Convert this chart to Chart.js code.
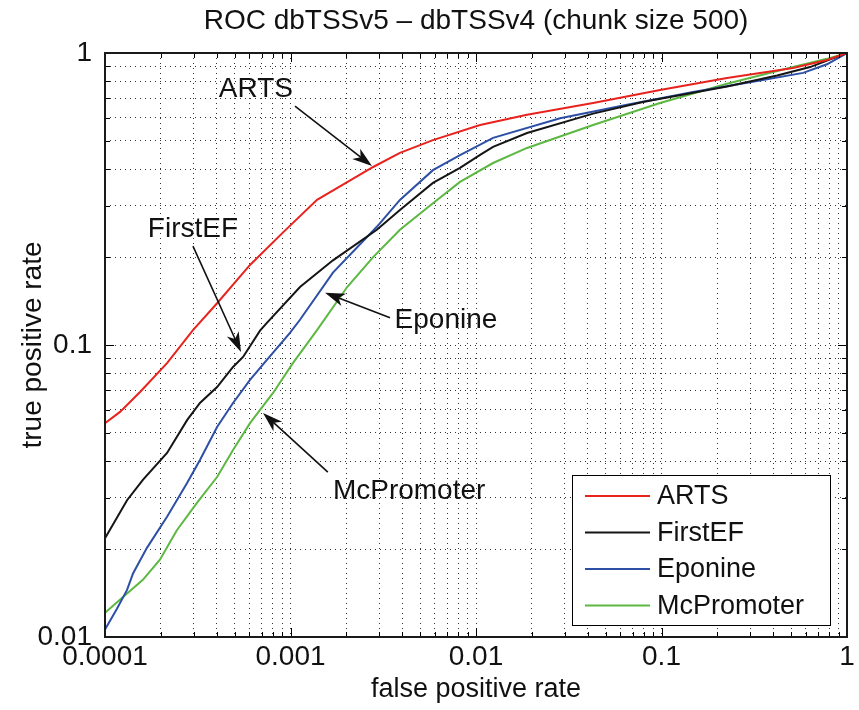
<!DOCTYPE html>
<html>
<head>
<meta charset="utf-8" />
<title>ROC dbTSSv5 - dbTSSv4</title>
<script src="https://cdn.jsdelivr.net/npm/chart.js@4.4.1/dist/chart.umd.min.js"></script>
<style>
    body {
        margin: 0;
        background: #ffffff;
    }
</style>
</head>
<body>
<canvas id="roc" width="859" height="710"></canvas>

<script>
    // tick labels (one per decade)
    const xTickLabels = ['0.0001', '0.001', '0.01', '0.1', '1'];
    const yTickLabels = ['0.01', '0.1', '1'];

    const seriesNames = ['ARTS', 'FirstEF', 'Eponine', 'McPromoter'];

    // values (false positive rate / true positive rate)
    const artsFpr = [0.0001, 0.0001205, 0.0001545, 0.000216, 0.000298, 0.000402, 0.000605, 0.000912, 0.00139, 0.00279, 0.00389, 0.00586, 0.01052, 0.01884, 0.0428, 0.0982, 0.2254, 0.512, 0.78, 1];
    const artsTpr = [0.054, 0.059, 0.069, 0.0867, 0.1125, 0.139, 0.188, 0.243, 0.314, 0.407, 0.455, 0.503, 0.567, 0.614, 0.674, 0.747, 0.821, 0.889, 0.946, 1];

    const firstefFpr = [0.0001, 0.0001315, 0.00016, 0.000216, 0.000277, 0.000325, 0.000402, 0.00049, 0.000555, 0.000685, 0.000746, 0.001125, 0.001694, 0.00292, 0.00389, 0.00586, 0.0082, 0.01052, 0.01236, 0.01884, 0.0428, 0.0794, 0.2254, 0.42, 0.632, 1];
    const firstefTpr = [0.0218, 0.0294, 0.0345, 0.0427, 0.0553, 0.0633, 0.0718, 0.0841, 0.091, 0.112, 0.119, 0.158, 0.195, 0.248, 0.29, 0.359, 0.404, 0.448, 0.477, 0.532, 0.62, 0.68, 0.768, 0.838, 0.895, 1];

    const eponineFpr = [0.0001, 0.000116, 0.0001315, 0.0001416, 0.0001683, 0.000216, 0.000277, 0.000325, 0.000402, 0.00049, 0.000605, 0.000746, 0.000993, 0.001125, 0.001694, 0.00292, 0.00389, 0.00586, 0.0082, 0.01236, 0.0284, 0.0652, 0.148, 0.34, 0.58, 0.78, 1];
    const eponineTpr = [0.0106, 0.0125, 0.0145, 0.0165, 0.0202, 0.0258, 0.0337, 0.0404, 0.0524, 0.0633, 0.076, 0.0889, 0.11, 0.122, 0.177, 0.254, 0.314, 0.397, 0.447, 0.512, 0.598, 0.665, 0.735, 0.805, 0.855, 0.915, 1];

    const mcpromoterFpr = [0.0001, 0.0001315, 0.00016, 0.0001977, 0.000244, 0.000313, 0.000402, 0.00049, 0.000605, 0.000805, 0.00103, 0.00139, 0.00202, 0.00279, 0.00389, 0.00586, 0.0082, 0.01236, 0.01884, 0.0428, 0.0982, 0.2254, 0.512, 0.78, 1];
    const mcpromoterTpr = [0.0121, 0.0141, 0.0157, 0.0184, 0.0232, 0.0288, 0.0353, 0.0437, 0.054, 0.0685, 0.0867, 0.1125, 0.158, 0.2, 0.248, 0.306, 0.362, 0.42, 0.473, 0.567, 0.674, 0.785, 0.895, 0.955, 1];

    const seriesFpr = [artsFpr, firstefFpr, eponineFpr, mcpromoterFpr];
    const seriesTpr = [artsTpr, firstefTpr, eponineTpr, mcpromoterTpr];
    const seriesColors = ['#e8231e', '#151515', '#2d4fa5', '#5cb842'];

    // text labels with arrows, in data coordinates
    const notes = [
        { text: 'ARTS',       tx: 0.000651, ty: 0.753, fx: 0.001057, fy: 0.658, ax: 0.00275,  ay: 0.41 },
        { text: 'FirstEF',    tx: 0.000298, ty: 0.25,  fx: 0.000298, fy: 0.218, ax: 0.000541, ay: 0.0946 },
        { text: 'Eponine',    tx: 0.00689,  ty: 0.122, fx: 0.00344,  fy: 0.124, ax: 0.001535, ay: 0.151 },
        { text: 'McPromoter', tx: 0.00436,  ty: 0.0316, fx: 0.00159, fy: 0.0367, ax: 0.000711, ay: 0.0585 }
    ];

    const FONT = '"Liberation Sans", Arial, Helvetica, sans-serif';

    function decadeTicks(lo, hi) {
        const out = [];
        for (let e = lo; e < hi; e++) {
            for (let m = 1; m <= 9; m++) out.push({ value: m * Math.pow(10, e) });
        }
        out.push({ value: Math.pow(10, hi) });
        return out;
    }

    function isPow10(v) {
        const e = Math.log10(v);
        return Math.abs(e - Math.round(e)) < 1e-9;
    }

    function drawArrow(ctx, x0, y0, x1, y1) {
        const ang = Math.atan2(y1 - y0, x1 - x0);
        const L = 20, W = 6.5;
        ctx.beginPath();
        ctx.moveTo(x0, y0);
        ctx.lineTo(x1 - Math.cos(ang) * L * 0.7, y1 - Math.sin(ang) * L * 0.7);
        ctx.stroke();
        ctx.save();
        ctx.translate(x1, y1);
        ctx.rotate(ang);
        ctx.beginPath();
        ctx.moveTo(0, 0);
        ctx.lineTo(-L, -W);
        ctx.lineTo(-L * 0.72, 0);
        ctx.lineTo(-L, W);
        ctx.closePath();
        ctx.fill();
        ctx.restore();
    }

    const decorPlugin = {
        id: 'decor',
        afterDatasetsDraw(chart) {
            const { ctx, chartArea: a, scales: { x, y } } = chart;
            ctx.save();

            // annotations
            ctx.fillStyle = '#111';
            ctx.strokeStyle = '#111';
            ctx.lineWidth = 1.6;
            ctx.font = '28px ' + FONT;
            ctx.textAlign = 'center';
            ctx.textBaseline = 'middle';
            notes.forEach(n => {
                ctx.fillText(n.text, x.getPixelForValue(n.tx), y.getPixelForValue(n.ty));
                drawArrow(ctx, x.getPixelForValue(n.fx), y.getPixelForValue(n.fy),
                    x.getPixelForValue(n.ax), y.getPixelForValue(n.ay));
            });

            // inward tick marks on all four sides
            ctx.strokeStyle = '#000';
            ctx.lineWidth = 1;
            ctx.beginPath();
            x.ticks.forEach(t => {
                const px = Math.round(x.getPixelForValue(t.value)) + 0.5;
                const len = isPow10(t.value) ? 9 : 5;
                ctx.moveTo(px, a.bottom); ctx.lineTo(px, a.bottom - len);
                ctx.moveTo(px, a.top); ctx.lineTo(px, a.top + len);
            });
            y.ticks.forEach(t => {
                const py = Math.round(y.getPixelForValue(t.value)) + 0.5;
                const len = isPow10(t.value) ? 9 : 5;
                ctx.moveTo(a.left, py); ctx.lineTo(a.left + len, py);
                ctx.moveTo(a.right, py); ctx.lineTo(a.right - len, py);
            });
            ctx.stroke();

            // axes box
            ctx.lineWidth = 2;
            ctx.strokeStyle = '#1a1a1a';
            ctx.strokeRect(a.left, a.top, a.right - a.left, a.bottom - a.top);

            // legend box, bottom-right inside the axes
            const bw = 258, bh = 150;
            const bx = a.right - 17 - bw, by = a.bottom - 12 - bh;
            ctx.fillStyle = '#fff';
            ctx.fillRect(bx, by, bw, bh);
            ctx.lineWidth = 1;
            ctx.strokeStyle = '#000';
            ctx.strokeRect(bx + 0.5, by + 0.5, bw, bh);
            ctx.font = '27px ' + FONT;
            ctx.textAlign = 'left';
            ctx.textBaseline = 'middle';
            chart.data.datasets.forEach((ds, i) => {
                const ly = by + 21 + i * 36.5;
                ctx.strokeStyle = ds.borderColor;
                ctx.lineWidth = 2;
                ctx.beginPath();
                ctx.moveTo(bx + 13, ly);
                ctx.lineTo(bx + 78, ly);
                ctx.stroke();
                ctx.fillStyle = '#111';
                ctx.fillText(ds.label, bx + 85, ly + 1);
            });

            ctx.restore();
        }
    };

    const datasets = seriesNames.map((name, i) => ({
        label: name,
        data: seriesFpr[i].map((v, j) => ({ x: v, y: seriesTpr[i][j] })),
        borderColor: seriesColors[i],
        borderWidth: 2,
        pointRadius: 0,
        tension: 0,
        fill: false
    }));

    new Chart(document.getElementById('roc'), {
        type: 'line',
        data: { datasets: datasets },
        plugins: [decorPlugin],
        options: {
            responsive: false,
            animation: false,
            devicePixelRatio: 1,
            layout: { padding: { left: 0, right: 12, top: 0, bottom: 0 } },
            plugins: {
                legend: { display: false },
                tooltip: { enabled: false },
                title: {
                    display: true,
                    fullSize: false,
                    text: 'ROC dbTSSv5 \u2013 dbTSSv4 (chunk size 500)',
                    color: '#111',
                    font: { family: FONT, size: 28, weight: 'normal' },
                    padding: { top: 4, bottom: 15.4 }
                }
            },
            scales: {
                x: {
                    type: 'logarithmic',
                    min: 0.0001,
                    max: 1,
                    afterBuildTicks: s => { s.ticks = decadeTicks(-4, 0); },
                    afterFit: s => { s.height = 73; },
                    ticks: {
                        autoSkip: false,
                        maxRotation: 0,
                        padding: 3,
                        color: '#111',
                        font: { family: FONT, size: 28 },
                        callback: v => isPow10(v) ? xTickLabels[Math.round(Math.log10(v)) + 4] : ''
                    },
                    grid: { color: 'rgba(0,0,0,0.8)', lineWidth: 1, drawTicks: false },
                    border: { display: false, dash: [1, 4] },
                    title: {
                        display: true,
                        text: 'false positive rate',
                        color: '#111',
                        font: { family: FONT, size: 27 },
                        padding: { top: 0, bottom: 4 }
                    }
                },
                y: {
                    type: 'logarithmic',
                    min: 0.01,
                    max: 1,
                    afterBuildTicks: s => { s.ticks = decadeTicks(-2, 0); },
                    afterFit: s => { s.width = 105; },
                    ticks: {
                        autoSkip: false,
                        padding: 13,
                        color: '#111',
                        font: { family: FONT, size: 28 },
                        callback: v => isPow10(v) ? yTickLabels[Math.round(Math.log10(v)) + 2] : ''
                    },
                    grid: { color: 'rgba(0,0,0,0.8)', lineWidth: 1, drawTicks: false },
                    border: { display: false, dash: [1, 4] },
                    title: {
                        display: true,
                        text: 'true positive rate',
                        color: '#111',
                        font: { family: FONT, size: 28 },
                        padding: { top: 16, bottom: 0 }
                    }
                }
            }
        }
    });
</script>
</body>
</html>
